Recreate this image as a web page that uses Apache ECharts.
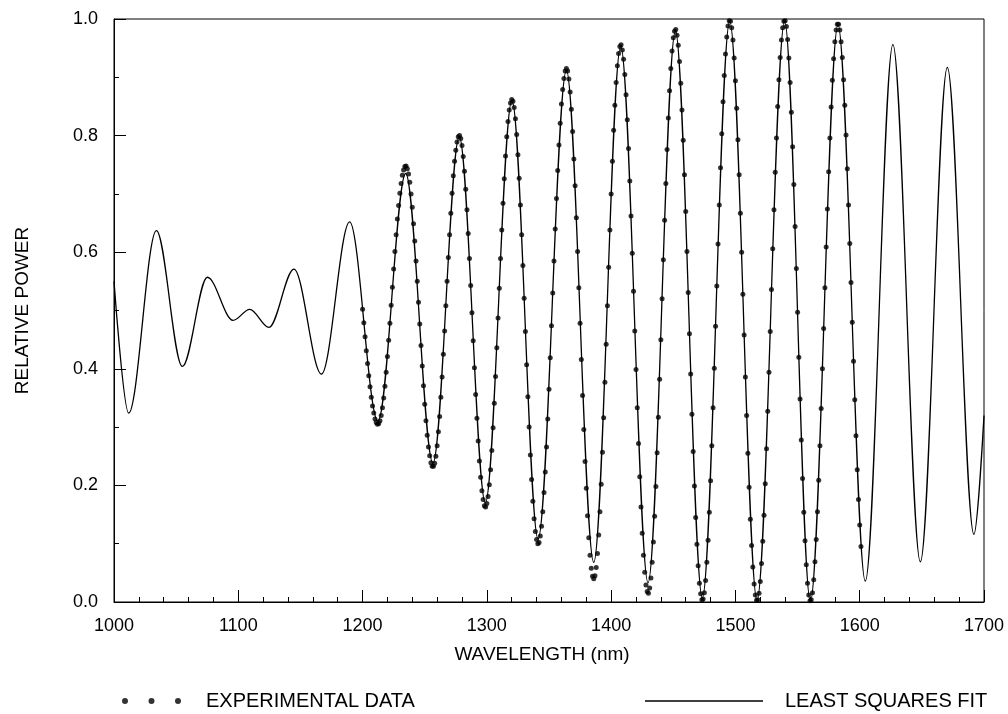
<!DOCTYPE html>
<html>
<head>
<meta charset="utf-8">
<title>Relative power vs wavelength</title>
<script src="https://cdn.jsdelivr.net/npm/echarts@6/dist/echarts.min.js"></script>
<style>
  html, body { margin: 0; padding: 0; background: #fff; }
  #chart { width: 1008px; height: 714px; }
</style>
</head>
<body>
<div id="chart"></div>
<script>
// least squares fit: turning points (nm, relative power)
const fitWavelength = [
  1000, 1011.8, 1034.1, 1055.0, 1075.1, 1095.8, 1109.2, 1124.7, 1144.8, 1166.9,
  1189.6, 1212.4, 1234.7, 1256.6, 1277.8, 1298.8, 1320.2, 1341.2, 1364.0, 1386.0,
  1407.7, 1429.7, 1451.7, 1473.4, 1495.4, 1517.4, 1539.6, 1560.3, 1582.5, 1604.5,
  1626.7, 1648.8, 1670.5, 1691.9, 1700
];
const fitPower = [
  0.550, 0.324, 0.637, 0.404, 0.557, 0.483, 0.502, 0.471, 0.571, 0.391,
  0.652, 0.310, 0.735, 0.238, 0.798, 0.170, 0.861, 0.108, 0.912, 0.068,
  0.953, 0.033, 0.979, 0.007, 0.996, 0.003, 0.996, 0.001, 0.990, 0.036,
  0.956, 0.069, 0.917, 0.116, 0.320
];

// experimental data: one point per nm from 1200 nm
const expStart = 1200;
const expPower = [
  0.502,0.479,0.455,0.431,0.409,0.388,0.369,0.351,0.336,0.324,0.314,0.308,0.305,
  0.306,0.311,0.320,0.333,0.350,0.370,0.394,0.421,0.449,0.478,0.509,0.540,0.571,0.601,0.630,0.657,0.680,0.701,0.718,0.732,0.741,0.747,
  0.748,0.743,0.734,0.720,0.700,0.677,0.649,0.619,0.585,0.550,0.514,0.477,0.440,0.405,0.371,0.339,0.311,0.286,0.266,0.251,0.239,0.233,
  0.233,0.238,0.250,0.268,0.292,0.318,0.351,0.386,0.425,0.465,0.508,0.550,0.591,0.630,0.667,0.701,0.731,0.756,0.775,0.789,0.798,
  0.800,0.795,0.783,0.764,0.739,0.708,0.673,0.632,0.589,0.543,0.496,0.448,0.402,0.356,0.315,0.276,0.242,0.214,0.191,0.176,0.165,
  0.163,0.169,0.181,0.201,0.227,0.260,0.299,0.341,0.387,0.436,0.487,0.538,0.589,0.638,0.684,0.726,0.765,0.798,0.824,0.844,0.856,0.862,
  0.859,0.848,0.829,0.802,0.767,0.727,0.681,0.630,0.577,0.521,0.464,0.407,0.352,0.300,0.252,0.210,0.173,0.143,0.121,0.107,0.100,
  0.102,0.113,0.130,0.155,0.188,0.223,0.266,0.314,0.365,0.419,0.474,0.530,0.585,0.640,0.692,0.740,0.784,0.821,0.854,0.879,0.898,0.911,0.915,
  0.911,0.897,0.875,0.845,0.807,0.760,0.714,0.659,0.601,0.539,0.478,0.416,0.354,0.296,0.241,0.195,0.148,0.110,0.080,0.058,0.044,0.040,
  0.045,0.059,0.083,0.115,0.155,0.202,0.257,0.316,0.377,0.442,0.508,0.574,0.638,0.700,0.756,0.809,0.852,0.891,0.920,0.941,0.953,
  0.956,0.947,0.931,0.905,0.870,0.827,0.778,0.722,0.662,0.598,0.533,0.465,0.399,0.333,0.272,0.215,0.163,0.118,0.080,0.051,0.029,0.018,
  0.015,0.024,0.041,0.068,0.103,0.147,0.198,0.256,0.317,0.382,0.450,0.520,0.587,0.655,0.718,0.776,0.830,0.877,0.915,0.945,0.968,0.979,
  0.982,0.972,0.955,0.927,0.890,0.844,0.792,0.733,0.670,0.601,0.531,0.460,0.391,0.322,0.258,0.199,0.145,0.099,0.062,0.032,0.014,0.004,
  0.005,0.016,0.037,0.068,0.106,0.154,0.208,0.268,0.333,0.401,0.473,0.542,0.614,0.681,0.745,0.803,0.858,0.903,0.940,0.969,0.988,0.997,
  0.996,0.985,0.964,0.933,0.894,0.847,0.793,0.733,0.667,0.600,0.528,0.458,0.386,0.320,0.255,0.197,0.142,0.097,0.060,0.031,0.012,0.003,
  0.004,0.015,0.035,0.066,0.104,0.149,0.203,0.263,0.327,0.394,0.464,0.536,0.606,0.673,0.737,0.796,0.850,0.896,0.934,0.964,0.985,0.996,
  0.997,0.987,0.965,0.933,0.891,0.840,0.781,0.716,0.644,0.572,0.497,0.420,0.348,0.278,0.212,0.154,0.105,0.064,0.032,0.012,0.002,
  0.004,0.016,0.038,0.069,0.107,0.155,0.209,0.268,0.332,0.400,0.469,0.539,0.609,0.674,0.738,0.796,0.849,0.895,0.932,0.961,0.981,0.991,
  0.991,0.981,0.961,0.934,0.896,0.852,0.801,0.743,0.681,0.615,0.548,0.480,0.413,0.347,0.285,0.227,0.176,0.132,0.095
];

const xTicks = { min: 1000, max: 1700, step: 100 };
const yTicks = { min: 0, max: 1, step: 0.2 };

const FONT = "'Liberation Sans', Arial, sans-serif";
const INK = "#000";

const chart = echarts.init(document.getElementById("chart"));

const fitData = fitWavelength.map((x, i) => [x, fitPower[i]]);
const expData = expPower.map((v, i) => [expStart + i, v]);

// three dots for the legend marker
const dotsIcon = "path://M0,3a3,3 0 1,0 6,0a3,3 0 1,0 -6,0z" +
  "M26.5,3a3,3 0 1,0 6,0a3,3 0 1,0 -6,0z" +
  "M53,3a3,3 0 1,0 6,0a3,3 0 1,0 -6,0z";

chart.setOption({
  animation: false,
  backgroundColor: "#fff",
  textStyle: { fontFamily: FONT, color: INK },
  grid: {
    left: 114, right: 24, top: 19, bottom: 112,
    show: true, borderColor: INK, borderWidth: 1, backgroundColor: "transparent"
  },
  legend: [
    {
      data: [{ name: "EXPERIMENTAL DATA", icon: dotsIcon }],
      left: 117, top: 686,
      itemWidth: 59, itemHeight: 6,
      selectedMode: false,
      textStyle: { fontSize: 20, color: INK, fontFamily: FONT, padding: [0, 0, 0, 20] }
    },
    {
      data: [{ name: "LEAST SQUARES FIT", icon: "rect" }],
      left: 640, top: 686,
      itemWidth: 118, itemHeight: 1.3,
      selectedMode: false,
      textStyle: { fontSize: 20, color: INK, fontFamily: FONT, padding: [0, 0, 0, 17] }
    }
  ],
  xAxis: {
    type: "value",
    min: xTicks.min, max: xTicks.max, interval: xTicks.step,
    name: "WAVELENGTH (nm)",
    nameLocation: "middle",
    nameGap: 43,
    nameTextStyle: { fontSize: 19, color: INK, padding: [0, 14, 0, 0] },
    axisLine: { lineStyle: { color: INK, width: 1 } },
    axisTick: { inside: true, length: 12, lineStyle: { color: INK } },
    minorTick: { show: true, splitNumber: 5, length: 5, lineStyle: { color: INK } },
    axisLabel: { fontSize: 18, color: INK, margin: 15, formatter: (v) => String(v) },
    splitLine: { show: false }
  },
  yAxis: {
    type: "value",
    min: yTicks.min, max: yTicks.max, interval: yTicks.step,
    name: "RELATIVE POWER",
    nameLocation: "middle",
    nameGap: 82,
    nameTextStyle: { fontSize: 19, color: INK },
    axisLine: { show: true, lineStyle: { color: INK, width: 1 } },
    axisTick: { inside: true, length: 12, lineStyle: { color: INK } },
    minorTick: { show: true, splitNumber: 2, length: 5, lineStyle: { color: INK } },
    axisLabel: { fontSize: 18, color: INK, margin: 16, formatter: (v) => v.toFixed(1) },
    splitLine: { show: false }
  },
  series: [
    {
      name: "LEAST SQUARES FIT",
      type: "line",
      data: fitData,
      smooth: 0.34,
      smoothMonotone: "x",
      symbol: "none",
      lineStyle: { color: INK, width: 1.3 },
      itemStyle: { color: INK },
      z: 2
    },
    {
      name: "EXPERIMENTAL DATA",
      type: "scatter",
      data: expData,
      symbol: "circle",
      symbolSize: 5,
      itemStyle: { color: INK },
      z: 3
    }
  ]
});
</script>
</body>
</html>
